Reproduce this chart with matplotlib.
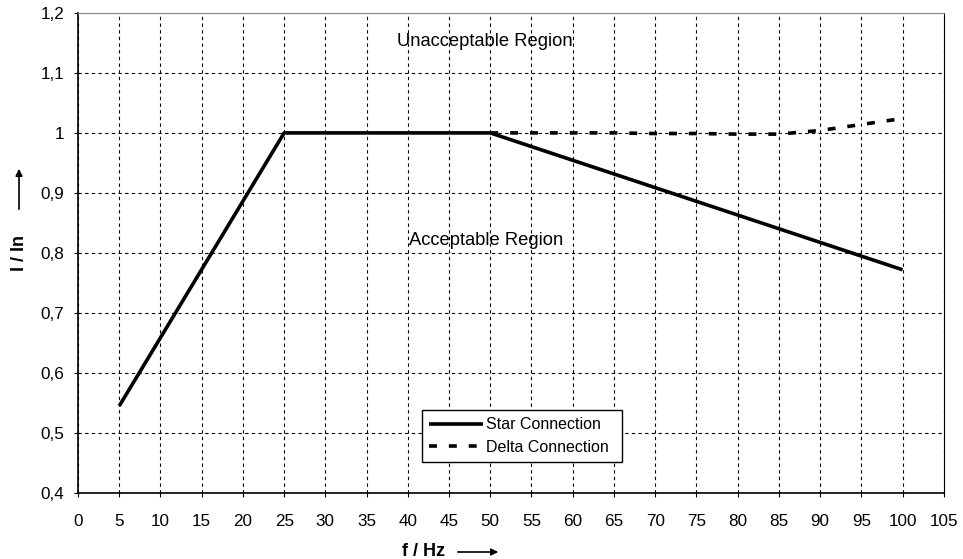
import matplotlib
matplotlib.use("Agg")
import matplotlib.pyplot as plt
from matplotlib.ticker import FuncFormatter
from matplotlib.patches import FancyArrowPatch

plt.rcParams['font.family'] = ['Liberation Sans', 'DejaVu Sans']

star_f = [5, 25, 50, 100]
star_i = [0.545, 1.0, 1.0, 0.772]
delta_f = [50, 55, 60, 65, 70, 75, 80, 85, 90, 95, 100]
delta_i = [1.0, 1.0, 1.0, 1.0, 0.999, 0.999, 0.998, 0.998, 1.004, 1.014, 1.024]
x_ticks = list(range(0, 106, 5))
y_ticks = [0.4, 0.5, 0.6, 0.7, 0.8, 0.9, 1.0, 1.1, 1.2]

fig = plt.figure(figsize=(9.63, 5.59), dpi=100)
ax = fig.add_axes([0.081, 0.118, 0.899, 0.859])

ax.plot(star_f, star_i, color='black', lw=2.6, solid_capstyle='butt', label='Star Connection', zorder=3)
ax.plot(delta_f, delta_i, color='black', lw=2.6, linestyle=(0, (2.2, 3.3)), label='Delta Connection', zorder=3)

ax.set_xlim(0, 105)
ax.set_ylim(0.4, 1.2)
ax.set_xticks(x_ticks)
ax.set_yticks(y_ticks)

def fmt(v, pos):
    s = ('%.1f' % v).replace('.', ',')
    if s.endswith(',0'):
        s = s[:-2]
    return s
ax.yaxis.set_major_formatter(FuncFormatter(fmt))
ax.tick_params(axis='both', labelsize=12.3, length=3, width=0.8, direction='out')
ax.tick_params(axis='x', pad=12)
ax.tick_params(axis='y', pad=7)

ax.grid(True, color='black', linestyle=(0, (3, 3)), linewidth=0.8)
ax.set_axisbelow(True)

for s in ['left', 'bottom']:
    ax.spines[s].set_linewidth(1.2)
ax.spines['right'].set_linewidth(0.8)
ax.spines['top'].set_linewidth(0.8)
ax.spines['top'].set_color('#888888')

ax.text(49.3, 1.152, 'Unacceptable Region', ha='center', va='center', fontsize=13.2)
ax.text(49.5, 0.82, 'Acceptable Region', ha='center', va='center', fontsize=13.2)

leg = ax.legend(loc='lower left', bbox_to_anchor=(0.397, 0.065, 0.231, 0.117), mode='expand',
                fontsize=11.5, frameon=True, fancybox=False, edgecolor='black', framealpha=1,
                handlelength=3.4, borderaxespad=0, handletextpad=0.15, labelspacing=0.45,
                borderpad=0.45)
leg.get_frame().set_linewidth(1.0)

# axis labels with arrows
fig.text(402/963, 1 - 552/559, 'f / Hz', ha='left', va='center', fontsize=13, fontweight='bold')
fig.add_artist(FancyArrowPatch((455/963, 1 - 552/559), (501/963, 1 - 552/559),
               transform=fig.transFigure, arrowstyle='-|>', mutation_scale=10, lw=1.2, color='black'))
fig.text(19/963, 1 - 253/559, 'I / In', ha='center', va='center', fontsize=13, fontweight='bold', rotation=90)
fig.add_artist(FancyArrowPatch((19/963, 1 - 212/559), (19/963, 1 - 166/559),
               transform=fig.transFigure, arrowstyle='-|>', mutation_scale=10, lw=1.2, color='black'))

fig.savefig('out.png', dpi=100)
